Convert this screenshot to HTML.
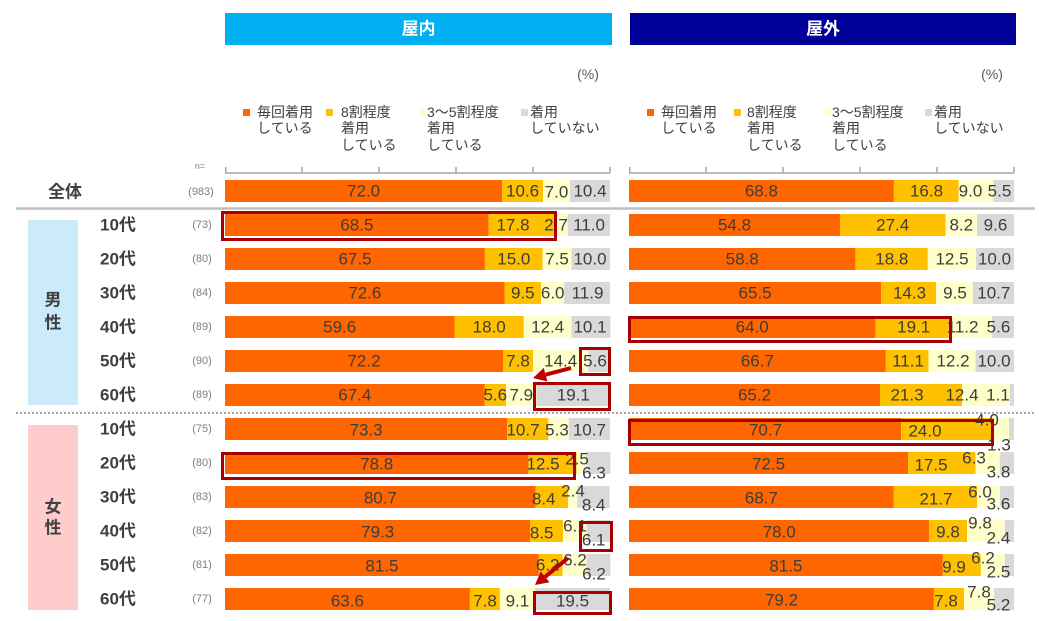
<!DOCTYPE html>
<html><head><meta charset="utf-8"><style>
html,body{margin:0;padding:0;background:#fff;}
svg{display:block;}
text{font-family:"Liberation Sans","Noto Sans CJK JP",sans-serif;}
.d{font-size:17px;fill:#3d3d3d;text-anchor:middle;dominant-baseline:central;}
.lg{font-size:14px;fill:#404040;dominant-baseline:central;}
.age{font-size:17px;font-weight:bold;fill:#404040;dominant-baseline:central;}
.n{font-size:11px;fill:#7f7f7f;text-anchor:middle;dominant-baseline:central;}
.o{fill:#FF6600}.y{fill:#FFC000}.p{fill:#FFFFCC}.g{fill:#D9D9D9}
.rb{fill:none;stroke:#A80000;stroke-width:3;}
</style></head><body>
<svg width="1039" height="621" viewBox="0 0 1039 621" xmlns="http://www.w3.org/2000/svg">
<!-- headers -->
<rect x="225" y="13" width="387" height="32" fill="#00B0F0"/>
<text x="418.5" y="29" font-size="17" font-weight="bold" fill="#fff" text-anchor="middle" dominant-baseline="central">屋内</text>
<rect x="630" y="13" width="386" height="32" fill="#000099"/>
<text x="823" y="29" font-size="17" font-weight="bold" fill="#fff" text-anchor="middle" dominant-baseline="central">屋外</text>
<text x="588" y="74" font-size="14" fill="#595959" text-anchor="middle" dominant-baseline="central">(%)</text>
<text x="992" y="74" font-size="14" fill="#595959" text-anchor="middle" dominant-baseline="central">(%)</text>

<!-- legends left -->
<rect x="243" y="109" width="7" height="7" class="o"/>
<text class="lg" x="257" y="112">毎回着用</text><text class="lg" x="257" y="128">している</text>
<rect x="326" y="109" width="7" height="7" class="y"/>
<text class="lg" x="341" y="112">8割程度</text><text class="lg" x="341" y="128">着用</text><text class="lg" x="341" y="145">している</text>
<rect x="419" y="109" width="7" height="7" class="p"/>
<text class="lg" x="427" y="112">3～5割程度</text><text class="lg" x="427" y="128">着用</text><text class="lg" x="427" y="145">している</text>
<rect x="521" y="109" width="7" height="7" class="g"/>
<text class="lg" x="530" y="112">着用</text><text class="lg" x="530" y="128">していない</text>
<!-- legends right -->
<rect x="647" y="109" width="7" height="7" class="o"/>
<text class="lg" x="661" y="112">毎回着用</text><text class="lg" x="661" y="128">している</text>
<rect x="734" y="109" width="7" height="7" class="y"/>
<text class="lg" x="747" y="112">8割程度</text><text class="lg" x="747" y="128">着用</text><text class="lg" x="747" y="145">している</text>
<rect x="824" y="109" width="7" height="7" class="p"/>
<text class="lg" x="832" y="112">3～5割程度</text><text class="lg" x="832" y="128">着用</text><text class="lg" x="832" y="145">している</text>
<rect x="925" y="109" width="7" height="7" class="g"/>
<text class="lg" x="934" y="112">着用</text><text class="lg" x="934" y="128">していない</text>

<!-- axes -->
<g stroke="#A6A6A6" stroke-width="1.5" fill="none">
<path d="M225 173H610 M225.7 167V173 M302 167V173 M379 167V173 M456 167V173 M533 167V173 M610 167V173"/>
<path d="M629 173H1014 M629.7 167V173 M706 167V173 M783 167V173 M860 167V173 M937 167V173 M1014 167V173"/>
</g>
<text x="200" y="166" font-size="9" fill="#7f7f7f" text-anchor="middle" dominant-baseline="central">n=</text>

<!-- separators -->
<line x1="16" y1="208.5" x2="1035" y2="208.5" stroke="#BFBFBF" stroke-width="2.5"/>
<line x1="16" y1="413" x2="1035" y2="413" stroke="#A6A6A6" stroke-width="2" stroke-dasharray="2 2"/>

<!-- left labels -->
<text class="age" x="48" y="192">全体</text>
<text class="n" x="201" y="192">(983)</text>
<rect x="28" y="220" width="50" height="185" fill="#CCEBFA"/>
<text class="age" x="53" y="300" text-anchor="middle">男</text>
<text class="age" x="53" y="323" text-anchor="middle">性</text>
<rect x="28" y="425" width="50" height="185" fill="#FFCCCC"/>
<text class="age" x="53" y="507" text-anchor="middle">女</text>
<text class="age" x="53" y="528" text-anchor="middle">性</text>

<text class="age" x="100" y="225">10代</text><text class="n" x="202" y="225">(73)</text>
<text class="age" x="100" y="259">20代</text><text class="n" x="202" y="259">(80)</text>
<text class="age" x="100" y="293">30代</text><text class="n" x="202" y="293">(84)</text>
<text class="age" x="100" y="327">40代</text><text class="n" x="202" y="327">(89)</text>
<text class="age" x="100" y="361">50代</text><text class="n" x="202" y="361">(90)</text>
<text class="age" x="100" y="395">60代</text><text class="n" x="202" y="395">(89)</text>
<text class="age" x="100" y="429">10代</text><text class="n" x="202" y="429">(75)</text>
<text class="age" x="100" y="463">20代</text><text class="n" x="202" y="463">(80)</text>
<text class="age" x="100" y="497">30代</text><text class="n" x="202" y="497">(83)</text>
<text class="age" x="100" y="531">40代</text><text class="n" x="202" y="531">(82)</text>
<text class="age" x="100" y="565">50代</text><text class="n" x="202" y="565">(81)</text>
<text class="age" x="100" y="599">60代</text><text class="n" x="202" y="599">(77)</text>

<!-- LEFT BARS -->
<rect class="o" x="225" y="180" width="277.2" height="22"/><rect class="y" x="502.2" y="180" width="40.8" height="22"/><rect class="p" x="543" y="180" width="27" height="22"/><rect class="g" x="570" y="180" width="40" height="22"/>
<text class="d" x="363.6" y="191">72.0</text><text class="d" x="522.6" y="191">10.6</text><text class="d" x="556.5" y="192">7.0</text><text class="d" x="590" y="191">10.4</text>
<rect class="o" x="225" y="214" width="263.7" height="22"/><rect class="y" x="488.7" y="214" width="68.6" height="22"/><rect class="p" x="557.3" y="214" width="10.4" height="22"/><rect class="g" x="567.7" y="214" width="42.3" height="22"/>
<text class="d" x="356.9" y="225">68.5</text><text class="d" x="513" y="225">17.8</text><text class="d" x="556" y="225">2.7</text><text class="d" x="589" y="225">11.0</text>
<rect class="o" x="225" y="248" width="259.9" height="22"/><rect class="y" x="484.9" y="248" width="57.7" height="22"/><rect class="p" x="542.6" y="248" width="28.9" height="22"/><rect class="g" x="571.5" y="248" width="38.5" height="22"/>
<text class="d" x="355" y="259">67.5</text><text class="d" x="513.8" y="259">15.0</text><text class="d" x="557" y="259">7.5</text><text class="d" x="590" y="259">10.0</text>
<rect class="o" x="225" y="282" width="279.5" height="22"/><rect class="y" x="504.5" y="282" width="36.6" height="22"/><rect class="p" x="541.1" y="282" width="23.1" height="22"/><rect class="g" x="564.2" y="282" width="45.8" height="22"/>
<text class="d" x="364.8" y="293">72.6</text><text class="d" x="522.8" y="293">9.5</text><text class="d" x="552.7" y="293">6.0</text><text class="d" x="587.5" y="293">11.9</text>
<rect class="o" x="225" y="316" width="229.5" height="22"/><rect class="y" x="454.5" y="316" width="69.3" height="22"/><rect class="p" x="523.8" y="316" width="47.7" height="22"/><rect class="g" x="571.5" y="316" width="38.9" height="22"/>
<text class="d" x="339.7" y="327">59.6</text><text class="d" x="489.2" y="327">18.0</text><text class="d" x="547.7" y="327">12.4</text><text class="d" x="590" y="327">10.1</text>
<rect class="o" x="225" y="350" width="278" height="22"/><rect class="y" x="503" y="350" width="30" height="22"/><rect class="p" x="533" y="350" width="55.4" height="22"/><rect class="g" x="588.4" y="350" width="21.6" height="22"/>
<text class="d" x="364" y="361">72.2</text><text class="d" x="518" y="361">7.8</text><text class="d" x="560.7" y="361">14.4</text><text class="d" x="595" y="361">5.6</text>
<rect class="o" x="225" y="384" width="259.5" height="22"/><rect class="y" x="484.5" y="384" width="21.6" height="22"/><rect class="p" x="506.1" y="384" width="30.4" height="22"/><rect class="g" x="536.5" y="384" width="73.5" height="22"/>
<text class="d" x="354.8" y="395">67.4</text><text class="d" x="495.3" y="395">5.6</text><text class="d" x="521.3" y="395">7.9</text><text class="d" x="573.3" y="395">19.1</text>
<rect class="o" x="225" y="418" width="282.2" height="22"/><rect class="y" x="507.2" y="418" width="41.2" height="22"/><rect class="p" x="548.4" y="418" width="20.4" height="22"/><rect class="g" x="568.8" y="418" width="41.2" height="22"/>
<text class="d" x="366.1" y="430">73.3</text><text class="d" x="523" y="430">10.7</text><text class="d" x="557" y="430">5.3</text><text class="d" x="589.4" y="430">10.7</text>
<rect class="o" x="225" y="452" width="303.4" height="22"/><rect class="y" x="528.4" y="452" width="48.1" height="22"/><rect class="p" x="576.5" y="452" width="9.6" height="22"/><rect class="g" x="586.1" y="452" width="24.3" height="22"/>
<text class="d" x="376.7" y="464">78.8</text><text class="d" x="543" y="464">12.5</text><text class="d" x="577" y="459">2.5</text><text class="d" x="594" y="473">6.3</text>
<rect class="o" x="225" y="486" width="310.7" height="22"/><rect class="y" x="535.7" y="486" width="32.3" height="22"/><rect class="p" x="568" y="486" width="9.3" height="22"/><rect class="g" x="577.3" y="486" width="32.3" height="22"/>
<text class="d" x="380.4" y="498">80.7</text><text class="d" x="543.7" y="499">8.4</text><text class="d" x="573" y="491">2.4</text><text class="d" x="593.7" y="505">8.4</text>
<rect class="o" x="225" y="520" width="305.3" height="22"/><rect class="y" x="530.3" y="520" width="32.7" height="22"/><rect class="p" x="563" y="520" width="23.5" height="22"/><rect class="g" x="586.5" y="520" width="23.5" height="22"/>
<text class="d" x="377.7" y="532">79.3</text><text class="d" x="541.7" y="533">8.5</text><text class="d" x="575" y="526">6.1</text><text class="d" x="593.7" y="540">6.1</text>
<rect class="o" x="225" y="554" width="313.8" height="22"/><rect class="y" x="538.8" y="554" width="23.8" height="22"/><rect class="p" x="562.6" y="554" width="23.9" height="22"/><rect class="g" x="586.5" y="554" width="23.9" height="22"/>
<text class="d" x="381.9" y="566">81.5</text><text class="d" x="547.7" y="565">6.2</text><text class="d" x="575" y="560">6.2</text><text class="d" x="594" y="574">6.2</text>
<rect class="o" x="225" y="588" width="244.9" height="22"/><rect class="y" x="469.9" y="588" width="30" height="22"/><rect class="p" x="499.9" y="588" width="35" height="22"/><rect class="g" x="534.9" y="588" width="75.1" height="22"/>
<text class="d" x="347.4" y="601">63.6</text><text class="d" x="485" y="601">7.8</text><text class="d" x="517.4" y="601">9.1</text><text class="d" x="572.5" y="601">19.5</text>

<!-- RIGHT BARS -->
<rect class="o" x="629" y="180" width="264.9" height="22"/><rect class="y" x="893.9" y="180" width="64.7" height="22"/><rect class="p" x="958.6" y="180" width="34.6" height="22"/><rect class="g" x="993.2" y="180" width="21" height="22"/>
<text class="d" x="761.4" y="191">68.8</text><text class="d" x="926.5" y="191">16.8</text><text class="d" x="970.5" y="191">9.0</text><text class="d" x="999.5" y="191">5.5</text>
<rect class="o" x="629" y="214" width="211" height="22"/><rect class="y" x="840" y="214" width="105.5" height="22"/><rect class="p" x="945.5" y="214" width="31.5" height="22"/><rect class="g" x="977" y="214" width="37" height="22"/>
<text class="d" x="734.5" y="225">54.8</text><text class="d" x="892.7" y="225">27.4</text><text class="d" x="961.3" y="225">8.2</text><text class="d" x="995.5" y="225">9.6</text>
<rect class="o" x="629" y="248" width="226.4" height="22"/><rect class="y" x="855.4" y="248" width="72.4" height="22"/><rect class="p" x="927.8" y="248" width="48.1" height="22"/><rect class="g" x="975.9" y="248" width="38.1" height="22"/>
<text class="d" x="742.2" y="259">58.8</text><text class="d" x="891.8" y="259">18.8</text><text class="d" x="952" y="259">12.5</text><text class="d" x="994.5" y="259">10.0</text>
<rect class="o" x="629" y="282" width="252.2" height="22"/><rect class="y" x="881.2" y="282" width="55" height="22"/><rect class="p" x="936.2" y="282" width="36.6" height="22"/><rect class="g" x="972.8" y="282" width="41.2" height="22"/>
<text class="d" x="755.1" y="293">65.5</text><text class="d" x="909.5" y="293">14.3</text><text class="d" x="955" y="293">9.5</text><text class="d" x="993.8" y="293">10.7</text>
<rect class="o" x="629" y="316" width="246.4" height="22"/><rect class="y" x="875.4" y="316" width="73.5" height="22"/><rect class="p" x="948.9" y="316" width="43.2" height="22"/><rect class="g" x="992.1" y="316" width="21.9" height="22"/>
<text class="d" x="752.2" y="327">64.0</text><text class="d" x="913.7" y="327">19.1</text><text class="d" x="962.5" y="327">11.2</text><text class="d" x="998.5" y="327">5.6</text>
<rect class="o" x="629" y="350" width="256.8" height="22"/><rect class="y" x="885.8" y="350" width="42.7" height="22"/><rect class="p" x="928.5" y="350" width="47" height="22"/><rect class="g" x="975.5" y="350" width="38.5" height="22"/>
<text class="d" x="757.4" y="361">66.7</text><text class="d" x="908" y="361">11.1</text><text class="d" x="953" y="361">12.2</text><text class="d" x="994" y="361">10.0</text>
<rect class="o" x="629" y="384" width="251" height="22"/><rect class="y" x="880" y="384" width="82" height="22"/><rect class="p" x="962" y="384" width="47.8" height="22"/><rect class="g" x="1009.8" y="384" width="4.2" height="22"/>
<text class="d" x="754.5" y="395">65.2</text><text class="d" x="907" y="395">21.3</text><text class="d" x="962" y="395">12.4</text><text class="d" x="998" y="395">1.1</text>
<rect class="o" x="629" y="418" width="272.2" height="22"/><rect class="y" x="901.2" y="418" width="92.4" height="22"/><rect class="p" x="993.6" y="418" width="15.4" height="22"/><rect class="g" x="1009" y="418" width="5" height="22"/>
<text class="d" x="765.5" y="430">70.7</text><text class="d" x="925" y="431">24.0</text><text class="d" x="987" y="420">4.0</text><text class="d" x="999" y="445">1.3</text>
<rect class="o" x="629" y="452" width="279.1" height="22"/><rect class="y" x="908.1" y="452" width="67.4" height="22"/><rect class="p" x="975.5" y="452" width="24.3" height="22"/><rect class="g" x="999.8" y="452" width="14.2" height="22"/>
<text class="d" x="768.6" y="464">72.5</text><text class="d" x="931" y="465">17.5</text><text class="d" x="974" y="458">6.3</text><text class="d" x="998.5" y="472">3.8</text>
<rect class="o" x="629" y="486" width="264.5" height="22"/><rect class="y" x="893.5" y="486" width="83.5" height="22"/><rect class="p" x="977" y="486" width="23.1" height="22"/><rect class="g" x="1000.1" y="486" width="13.9" height="22"/>
<text class="d" x="761.3" y="498">68.7</text><text class="d" x="936" y="499">21.7</text><text class="d" x="980" y="492">6.0</text><text class="d" x="998.5" y="504">3.6</text>
<rect class="o" x="629" y="520" width="300.3" height="22"/><rect class="y" x="929.3" y="520" width="37.7" height="22"/><rect class="p" x="967" y="520" width="37.8" height="22"/><rect class="g" x="1004.8" y="520" width="9.2" height="22"/>
<text class="d" x="779.2" y="532">78.0</text><text class="d" x="948" y="532">9.8</text><text class="d" x="980" y="523">9.8</text><text class="d" x="998.5" y="538">2.4</text>
<rect class="o" x="629" y="554" width="313.8" height="22"/><rect class="y" x="942.8" y="554" width="38.1" height="22"/><rect class="p" x="980.9" y="554" width="23.9" height="22"/><rect class="g" x="1004.8" y="554" width="9.2" height="22"/>
<text class="d" x="785.9" y="566">81.5</text><text class="d" x="954" y="567">9.9</text><text class="d" x="983" y="558">6.2</text><text class="d" x="998.5" y="572">2.5</text>
<rect class="o" x="629" y="588" width="304.9" height="22"/><rect class="y" x="933.9" y="588" width="30.1" height="22"/><rect class="p" x="964" y="588" width="30" height="22"/><rect class="g" x="994" y="588" width="20" height="22"/>
<text class="d" x="781.5" y="600">79.2</text><text class="d" x="946" y="601">7.8</text><text class="d" x="979" y="592">7.8</text><text class="d" x="998.5" y="605">5.2</text>

<!-- red boxes -->
<rect class="rb" x="222.5" y="212.5" width="333" height="27"/>
<rect class="rb" x="222.5" y="453.5" width="352" height="25"/>
<rect class="rb" x="580.5" y="348.5" width="29" height="26"/>
<rect class="rb" x="534.5" y="383.5" width="75" height="26"/>
<rect class="rb" x="580.5" y="522.5" width="31" height="28"/>
<rect class="rb" x="534.5" y="592.5" width="76" height="21"/>
<rect class="rb" x="629.5" y="317.5" width="321" height="24"/>
<rect class="rb" x="629.5" y="420.5" width="363" height="24"/>

<!-- arrows -->
<line x1="571" y1="368" x2="545.6" y2="374.7" stroke="#C00000" stroke-width="4"/>
<polygon points="533,378 547.4,381.5 543.8,367.9" fill="#C00000"/>
<line x1="568" y1="558" x2="545.1" y2="576.8" stroke="#C00000" stroke-width="4"/>
<polygon points="535,585 549.5,582.2 540.7,571.4" fill="#C00000"/>
</svg>
</body></html>
